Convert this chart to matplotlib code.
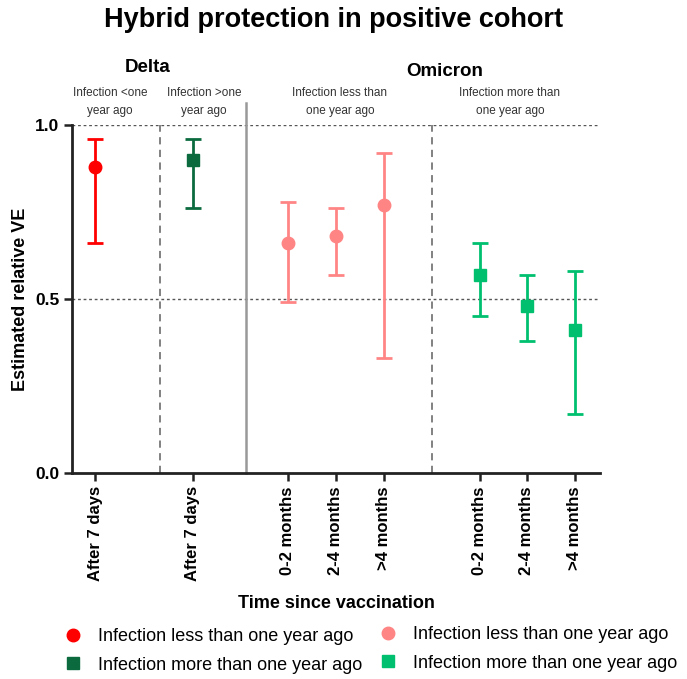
import matplotlib
matplotlib.use("Agg")
import matplotlib.pyplot as plt
from matplotlib.lines import Line2D

plt.rcParams['font.family'] = ['Liberation Sans', 'DejaVu Sans']

# Data
positions = [0, 2.04, 4.02, 5.02, 6.02, 8.02, 9.0, 10.0]
tick_labels = ["After 7 days", "After 7 days", "0-2 months", "2-4 months", ">4 months",
               "0-2 months", "2-4 months", ">4 months"]
ve = [0.88, 0.90, 0.66, 0.68, 0.77, 0.57, 0.48, 0.41]
lower = [0.66, 0.76, 0.49, 0.57, 0.33, 0.45, 0.38, 0.17]
upper = [0.96, 0.96, 0.78, 0.76, 0.92, 0.66, 0.57, 0.58]
groups = [0, 1, 2, 2, 2, 3, 3, 3]
group_colors = ["#ff0000", "#0b6b3e", "#ff8585", "#00c070"]
group_markers = ["o", "s", "o", "s"]
legend_labels = ["Infection less than one year ago", "Infection more than one year ago",
                 "Infection less than one year ago", "Infection more than one year ago"]

W, H = 687, 679
fig = plt.figure(figsize=(W / 100, H / 100), dpi=100)
ax = fig.add_axes([0.1055, 0.3034, 0.7675, 0.5126])

for x, v, lo, hi, g in zip(positions, ve, lower, upper, groups):
    ax.errorbar([x], [v], yerr=[[v - lo], [hi - v]], fmt=group_markers[g],
                color=group_colors[g], ms=9 if group_markers[g] == "o" else 8,
                elinewidth=2, capsize=6, capthick=2, zorder=3)

ax.set_xlim(-0.47, 10.52)
ax.set_ylim(0, 1.0)
ax.set_yticks([0.0, 0.5, 1.0])
ax.set_yticklabels(["0.0", "0.5", "1.0"], fontsize=12.5, fontweight="bold")
ax.set_xticks(positions)
ax.set_xticklabels(tick_labels, rotation=90, fontsize=12, fontweight="bold")
ax.tick_params(axis="both", direction="out", length=6, width=1.8, color="#222222")

for s in ["top", "right"]:
    ax.spines[s].set_visible(False)
for s in ["left", "bottom"]:
    ax.spines[s].set_linewidth(2)
    ax.spines[s].set_color("#222222")

ax.axhline(0.5, color="#555555", ls=(0, (2, 2)), lw=1, zorder=1)
ax.axhline(1.0, color="#555555", ls=(0, (2, 2)), lw=1, zorder=1)
ax.plot([1.35, 1.35], [0, 1.0], color="#777777", ls=(0, (4, 3)), lw=1.3, zorder=1)
ax.plot([7.02, 7.02], [0, 1.0], color="#777777", ls=(0, (4, 3)), lw=1.3, zorder=1)
ax.plot([3.15, 3.15], [0, 1.063], color="#999999", lw=1.8, zorder=1, clip_on=False)

ax.set_ylabel("Estimated relative VE", fontsize=13, fontweight="bold", labelpad=4)
ax.set_xlabel("Time since vaccination", fontsize=13, fontweight="bold", labelpad=10)

fig.text(0.485, 1 - 20 / H, "Hybrid protection in positive cohort", ha="center", va="center",
         fontsize=19.5, fontweight="bold")
fig.text(148 / W, 1 - 67 / H, "Delta", ha="center", va="center", fontsize=13.5, fontweight="bold")
fig.text(445 / W, 1 - 72 / H, "Omicron", ha="center", va="center", fontsize=13.5, fontweight="bold")
subs = [(110, "Infection <one\nyear ago"), (204, "Infection >one\nyear ago"),
        (340, "Infection less than\none year ago"), (510, "Infection more than\none year ago")]
for x, t in subs:
    fig.text(x / W, 1 - 102 / H, t, ha="center", va="center", fontsize=8.5,
             color="#333333", linespacing=1.6)

handles = [Line2D([], [], marker=group_markers[i], color=group_colors[i], ls="none",
                  ms=9 if group_markers[i] == "o" else 8) for i in range(4)]
leg_kw = dict(loc="upper left", frameon=False, fontsize=13, handletextpad=0.9,
              handlelength=1.0, labelspacing=0.65, borderpad=0, borderaxespad=0)
leg1 = fig.legend(handles[:2], legend_labels[:2], bbox_to_anchor=(64 / W, 1 - 628 / H), **leg_kw)
leg2 = fig.legend(handles[2:], legend_labels[2:], bbox_to_anchor=(379 / W, 1 - 626 / H), **leg_kw)

fig.savefig("out.png", dpi=100)
